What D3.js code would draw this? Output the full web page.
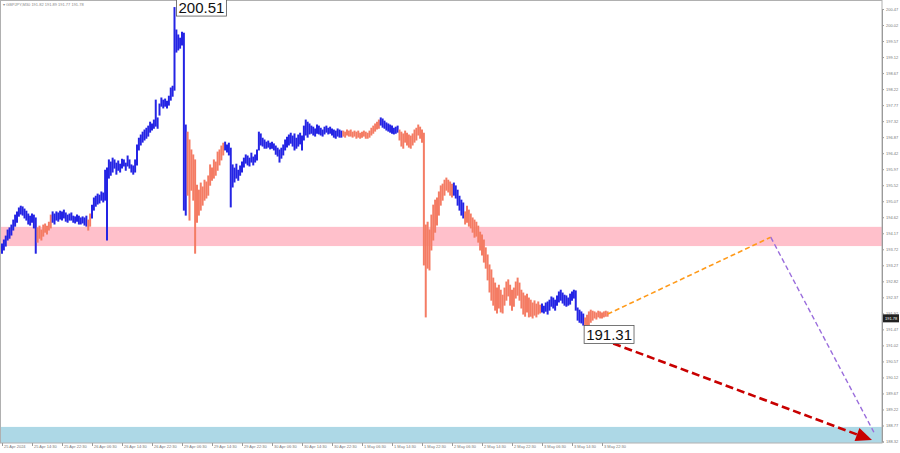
<!DOCTYPE html>
<html><head><meta charset="utf-8">
<script src="https://cdn.jsdelivr.net/npm/d3@7"></script>
<style>html,body{margin:0;padding:0;background:#fff;}svg{display:block;font-family:"Liberation Sans",Arial,sans-serif;}</style>
</head><body><svg id="c" width="900" height="453"></svg>
<script>
// ---- data ----
const symbolTitle = "\u25BE GBPJPY,M30  191.82 191.89 191.77 191.78";
const highs = [193.87,193.98,194.09,194.26,194.32,194.40,194.54,194.68,194.77,194.88,194.93,194.91,194.85,194.79,194.71,194.65,194.71,194.68,194.60,
194.32,194.37,194.26,194.40,194.43,194.37,194.48,194.68,
194.77,194.71,194.77,194.74,194.79,194.77,194.82,194.74,194.68,194.71,194.74,194.65,194.63,194.68,194.65,194.60,194.63,194.60,194.65,
194.54,194.71,
194.96,195.16,195.21,195.27,195.24,195.33,195.30,195.94,196.00,196.23,196.17,196.28,196.23,196.14,196.20,196.11,196.25,196.23,196.14,196.34,196.23,196.09,196.06,196.23,196.65,196.84,196.93,197.01,197.07,197.12,197.18,197.29,197.24,197.35,197.91,197.41,197.80,197.97,197.91,197.94,197.88,198.02,198.25,198.30,200.51,199.88,199.74,199.65,199.82,199.79,197.21,
197.01,196.79,196.51,196.37,196.23,195.52,195.38,195.58,195.47,195.66,195.61,195.78,196.09,196.00,196.23,196.17,196.45,196.51,196.62,196.70,
196.73,196.65,196.70,196.56,196.09,196.00,196.11,195.94,196.06,196.17,196.28,196.37,196.34,196.28,196.42,196.31,196.37,196.51,197.01,196.96,196.84,196.79,196.73,196.76,196.70,196.73,196.68,196.62,196.56,196.51,196.56,196.65,196.79,196.87,196.93,196.98,196.90,196.96,196.84,196.93,196.98,196.90,197.18,197.35,197.29,197.24,197.18,197.15,197.10,197.21,197.18,197.12,197.07,197.15,197.18,197.12,197.15,197.10,197.07,197.04,197.10,197.07,197.04,
197.04,197.01,197.07,197.04,197.07,197.01,197.04,197.01,197.04,196.98,197.01,197.04,197.01,196.98,197.04,197.12,197.18,197.24,197.29,197.35,
197.41,197.38,197.32,197.27,197.24,197.21,197.18,197.12,197.15,197.18,
197.07,197.01,196.96,197.04,196.98,196.93,196.90,196.96,197.07,197.12,197.21,197.15,197.07,196.98,194.40,194.48,194.26,194.68,194.96,195.10,195.16,195.33,195.50,195.55,195.66,195.72,195.66,195.61,195.55,
195.58,195.50,195.38,195.21,195.10,195.02,
194.77,194.93,194.82,194.71,194.60,194.54,194.48,194.37,194.20,194.12,193.98,193.76,193.56,193.28,193.14,192.91,192.77,192.63,192.71,192.57,192.43,192.63,192.80,192.86,192.71,192.57,192.63,192.80,192.91,192.77,192.57,192.49,192.41,192.46,192.35,192.29,192.21,192.27,192.18,192.24,192.15,
192.18,192.12,192.21,192.24,192.29,192.38,192.35,192.29,192.41,192.52,192.57,192.49,192.43,192.41,192.35,192.46,192.52,192.57,192.55,192.07,192.01,191.96,191.90,
191.79,191.87,191.96,192.01,191.98,191.96,191.93,191.98,191.96,191.93,191.96,191.98,191.96];
const lows = [193.61,193.70,193.81,193.98,194.03,194.12,194.26,194.37,194.48,194.65,194.71,194.68,194.60,194.54,194.43,194.40,194.48,194.32,193.61,
193.92,194.03,193.98,194.09,194.20,194.15,194.26,194.32,
194.48,194.43,194.54,194.51,194.57,194.54,194.60,194.51,194.48,194.54,194.54,194.48,194.46,194.51,194.43,194.43,194.46,194.40,194.37,
194.26,194.37,
194.60,194.82,194.93,194.99,195.02,195.10,195.05,195.10,193.98,195.72,195.80,195.89,196.00,195.83,195.94,195.89,196.00,196.06,195.94,196.06,196.00,195.89,195.83,195.89,196.09,196.51,196.65,196.73,196.79,196.84,196.90,197.01,197.07,197.12,197.18,197.12,197.49,197.74,197.69,197.74,197.69,197.77,197.91,198.02,198.19,199.26,199.32,199.37,199.46,194.82,194.68,
195.24,194.54,195.38,195.10,193.61,194.48,194.68,194.82,194.96,195.10,195.16,195.24,195.52,195.66,195.72,195.80,195.94,196.09,196.23,196.37,
196.51,196.45,196.37,194.91,195.47,195.61,195.72,195.66,195.80,195.89,196.03,196.14,196.09,196.06,196.17,196.09,196.17,196.23,196.51,196.65,196.62,196.56,196.56,196.59,196.54,196.56,196.51,196.39,196.34,196.17,196.28,196.37,196.51,196.59,196.65,196.70,196.62,196.51,196.56,196.62,196.68,196.51,196.79,196.93,196.87,196.96,196.98,196.93,196.90,196.98,196.96,196.93,196.90,196.96,197.01,196.96,196.98,196.93,196.87,196.84,196.90,196.87,196.87,
196.90,196.87,196.93,196.90,196.90,196.87,196.90,196.84,196.87,196.84,196.87,196.90,196.84,196.84,196.87,196.93,196.98,197.04,197.10,197.12,
197.21,197.15,197.12,197.07,197.04,197.01,196.98,196.96,196.98,197.01,
196.79,196.62,196.56,196.73,196.65,196.59,196.56,196.65,196.73,196.79,196.93,196.84,196.73,193.28,191.82,193.19,193.14,193.70,193.98,194.20,194.40,194.68,194.96,195.10,195.24,195.38,195.33,195.24,195.19,
195.24,195.16,194.96,194.82,194.68,194.60,
194.43,194.48,194.37,194.32,194.20,194.06,194.09,193.92,193.70,193.56,193.36,193.19,192.86,192.52,192.29,192.15,192.01,191.93,192.07,191.96,191.93,192.15,192.29,192.41,192.15,192.01,192.12,192.35,192.43,192.29,192.07,191.90,191.84,191.96,191.82,191.84,191.79,191.87,191.82,191.90,191.93,
191.96,191.93,191.98,191.90,192.01,192.12,192.07,192.01,192.15,192.24,192.29,192.21,192.15,192.12,192.15,192.18,192.29,192.35,192.01,191.73,191.67,191.65,191.59,
191.31,191.45,191.59,191.67,191.73,191.79,191.76,191.82,191.79,191.79,191.82,191.84,191.84];
// wave colouring: [firstBar, lastBar, direction]
const waveSegments = [[0,18,"up"],[19,26,"down"],[27,45,"up"],[46,47,"down"],[48,98,"up"],[99,118,"down"],[119,181,"up"],[182,201,"down"],[202,211,"up"],[212,240,"down"],[241,246,"up"],[247,287,"down"],[288,310,"up"],[311,323,"down"]];
const timeLabels = ["25 Apr 2024","25 Apr 14:30","25 Apr 22:30","26 Apr 06:30","26 Apr 14:30","26 Apr 22:30","29 Apr 06:30","29 Apr 14:30","29 Apr 22:30","30 Apr 06:30","30 Apr 14:30","30 Apr 22:30","1 May 06:30","1 May 14:30","1 May 22:30","2 May 06:30","2 May 14:30","2 May 22:30","3 May 06:30","3 May 14:30","3 May 22:30"];
const timeLabelBars = [0,16,32,48,64,80,96,112,128,144,160,176,192,208,224,240,256,272,288,304,320];
const priceTicks = [200.47,200.02,199.57,199.12,198.67,198.22,197.77,197.32,196.87,196.42,195.97,195.52,195.07,194.62,194.17,193.72,193.27,192.82,192.37,191.92,191.47,191.02,190.57,190.12,189.67,189.22,188.77,188.32];
const resistanceZone = [193.81, 194.35];
const targetZone = [188.28, 188.73];
const currentPrice = 191.78;
const highLabel = {bar: 92, price: 200.51};
const lowLabel = {bar: 311, price: 191.31};
const forecastUp = [[323, 191.90], [410, 194.06]];      // orange
const forecastDown = [[410, 194.06], [465, 188.58]];    // purple
const mainTarget = [[314, 191.31], [464, 188.36]];      // red arrow

// ---- layout ----
const plotR = 882, plotB = 443;
const svg = d3.select("#c");
const x = d3.scaleLinear().domain([0, 320]).range([2, 602]);
const y = d3.scaleLinear().domain([188.32, 200.47]).range([441.5, 9]);
const colors = {up: "#2424e4", down: "#f47c64"};

svg.append("defs").append("clipPath").attr("id","plot").append("rect").attr("x",0).attr("y",0).attr("width",plotR).attr("height",plotB);
const g = svg.append("g").attr("clip-path","url(#plot)");

// zones
g.append("rect").attr("x",0).attr("width",plotR).attr("y",y(resistanceZone[1])).attr("height",y(resistanceZone[0])-y(resistanceZone[1])).attr("fill","#ffc0cb");
g.append("rect").attr("x",0).attr("width",plotR).attr("y",y(targetZone[1])).attr("height",y(targetZone[0])-y(targetZone[1])).attr("fill","#add8e6");

// bars
const barColor = i => { for (const s of waveSegments) if (i>=s[0] && i<=s[1]) return colors[s[2]]; return colors.up; };
g.append("g").selectAll("line").data(highs.map((h,i)=>({i,h,l:lows[i]}))).join("line")
  .attr("x1",d=>x(d.i)).attr("x2",d=>x(d.i))
  .attr("y1",d=>y(d.h)-0.5).attr("y2",d=>y(d.l)+0.5)
  .attr("stroke",d=>barColor(d.i)).attr("stroke-width",2);

// forecast lines
const line = d3.line().x(d=>x(d[0])).y(d=>y(d[1]));
g.append("path").attr("d",line(forecastUp)).attr("fill","none").attr("stroke","#ff9a1a").attr("stroke-width",1.6).attr("stroke-dasharray","5,3");
g.append("path").attr("d",line(forecastDown)).attr("fill","none").attr("stroke","#9a6ddc").attr("stroke-width",1.4).attr("stroke-dasharray","5,3");
// red arrow
const p0 = [x(mainTarget[0][0]), y(mainTarget[0][1])], p1 = [x(mainTarget[1][0]), y(mainTarget[1][1])];
const ang = Math.atan2(p1[1]-p0[1], p1[0]-p0[0]);
const headLen = 16, headW = 7;
const base = [p1[0]-headLen*Math.cos(ang), p1[1]-headLen*Math.sin(ang)];
g.append("line").attr("x1",p0[0]).attr("y1",p0[1]).attr("x2",base[0]).attr("y2",base[1])
  .attr("stroke","#c80000").attr("stroke-width",2.6).attr("stroke-dasharray","8,4");
g.append("path").attr("d",`M${p1[0]},${p1[1]}L${base[0]-headW*Math.sin(ang)},${base[1]+headW*Math.cos(ang)}L${base[0]+headW*Math.sin(ang)},${base[1]-headW*Math.cos(ang)}Z`).attr("fill","#c80000");

// frame
svg.append("rect").attr("x",0.5).attr("y",0.5).attr("width",plotR-0.5).attr("height",plotB-0.5).attr("fill","none").attr("stroke","#b0b0b0").attr("stroke-width",1);

// axes
const ay = svg.append("g").attr("transform",`translate(${plotR},0)`)
  .call(d3.axisRight(y).tickValues(priceTicks).tickSize(2).tickPadding(2).tickFormat(d3.format(".2f")));
ay.select(".domain").attr("stroke","#9a9a9a");
ay.selectAll(".tick line").attr("stroke","#9a9a9a");
ay.selectAll("text").attr("font-size",4).attr("fill","#777");

const ax = svg.append("g").attr("transform",`translate(0,${plotB})`)
  .call(d3.axisBottom(x).tickValues(timeLabelBars).tickSize(3).tickFormat((d,i)=>timeLabels[i]));
ax.select(".domain").remove();
ax.selectAll(".tick line").attr("stroke","#9a9a9a");
ax.selectAll("text").attr("font-size",4).attr("fill","#777").attr("text-anchor","start").attr("dx",1.5).attr("dy","-0.2em");

// current price box
const cp = svg.append("g").attr("transform",`translate(${plotR},${y(currentPrice)})`);
cp.append("rect").attr("x",1).attr("y",-4).attr("width",16).attr("height",8).attr("fill","#222");
cp.append("text").attr("x",3).attr("y",1.5).attr("font-size",4).attr("fill","#fff").text(d3.format(".2f")(currentPrice));

// title
svg.append("text").attr("x",3).attr("y",6).attr("font-size",4).attr("fill","#888").text(symbolTitle);

// extreme labels
function boxLabel(px, py, txt){
  const t = svg.append("g");
  const tx = t.append("text").attr("x",px+3).attr("y",py+13).attr("font-size",15).attr("fill","#111").text(txt);
  const bb = tx.node().getBBox();
  t.insert("rect","text").attr("x",bb.x-2).attr("y",bb.y-0.5).attr("width",bb.width+4).attr("height",bb.height+1).attr("fill","#fff").attr("stroke","#555").attr("stroke-width",0.8);
}
boxLabel(x(highLabel.bar)+1, y(highLabel.price)-8, d3.format(".2f")(highLabel.price));
boxLabel(x(lowLabel.bar)-2, y(lowLabel.price)-8, d3.format(".2f")(lowLabel.price));
</script></body></html>
